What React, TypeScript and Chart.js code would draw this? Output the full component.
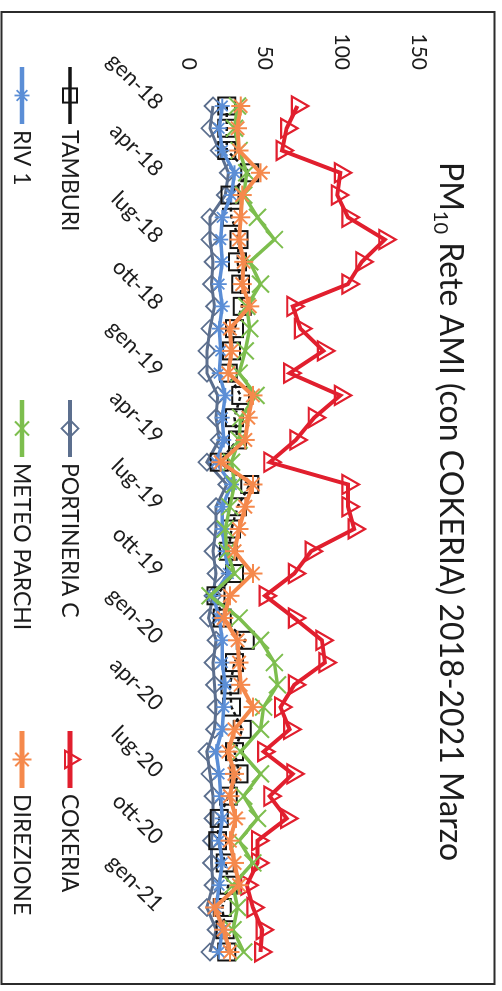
import React, { useEffect, useRef } from 'react';
import { Chart, registerables } from 'chart.js';
import { drawPoint } from 'chart.js/helpers';

Chart.register(...registerables);

const months = [
  'gen-18', 'feb-18', 'mar-18', 'apr-18', 'mag-18', 'giu-18', 'lug-18', 'ago-18', 'set-18', 'ott-18', 'nov-18', 'dic-18',
  'gen-19', 'feb-19', 'mar-19', 'apr-19', 'mag-19', 'giu-19', 'lug-19', 'ago-19', 'set-19', 'ott-19', 'nov-19', 'dic-19',
  'gen-20', 'feb-20', 'mar-20', 'apr-20', 'mag-20', 'giu-20', 'lug-20', 'ago-20', 'set-20', 'ott-20', 'nov-20', 'dic-20',
  'gen-21', 'feb-21', 'mar-21',
];
const shownTicks = ['gen-18', 'apr-18', 'lug-18', 'ott-18', 'gen-19', 'apr-19', 'lug-19', 'ott-19', 'gen-20', 'apr-20', 'lug-20', 'ott-20', 'gen-21'];

const cokeria = [71, 64, 61, 99, 97, 104, 128, 113, 104, 68, 73, 88, 66, 99, 82, 70, 53, 104, 104, 108, 80, 69, 50, 69, 87, 89, 69, 60, 66, 49, 68, 53, 64, 45, 45, 38, 42, 48, 47];
const meteoParchi = [32, 30, 33, 38, 36, 45, 56, 40, 47, 38, 40, 37, 33, 44, 34, 33, 28, 30, 27, 24, 25, 30, 14, 33, 47, 56, 58, 49, 47, 34, 47, 36, 45, 33, 42, 29, 32, 29, 36];
const direzione = [34, 32, 33, 47, 35, 34, 33, 36, 35, 40, 27, 28, 26, 42, 39, 37, 21, 42, 37, 33, 30, 42, 27, 23, 32, 33, 34, 42, 30, 26, 30, 27, 31, 27, 30, 33, 17, 23, 27];
const portineria = [16, 14, 20, 26, 24, 14, 14, 16, 15, 17, 14, 12, 12, 19, 18, 20, 12, 25, 18, 18, 16, 18, 16, 13, 18, 16, 17, 18, 17, 12, 14, 16, 16, 15, 15, 16, 12, 18, 14];
const riv1 = [22, 20, 22, 30, 28, 22, 21, 22, 20, 22, 20, 21, 20, 24, 22, 23, 18, 28, 22, 22, 24, 26, 16, 20, 22, 22, 24, 23, 22, 18, 20, 21, 22, 20, 22, 20, 18, 22, 20];
const tamburi = [25, 25, 25, 40, 27, 28, 33, 32, 34, 35, 30, 28, 26, 34, 30, 32, 20, 40, 32, 28, 26, 30, 18, 22, 37, 30, 27, 28, 35, 30, 33, 26, 20, 19, 24, 26, 22, 24, 25];

const titleMain = 'PM';
const titleSub = '10';
const titleRest = ' Rete AMI (con COKERIA) 2018-2021 Marzo';

const FONT = 'Lato';

type Series = {
  label: string; data: number[]; color: string; style: string; radius: number;
  lineWidth: number; markerWidth: number; dash?: number[]; order: number; col: number; row: number;
};

const series: Series[] = [
  { label: 'TAMBURI', data: tamburi, color: '#141414', style: 'rect', radius: 12, lineWidth: 2.5, markerWidth: 2, dash: [4, 3], order: 3, col: 0, row: 0 },
  { label: 'PORTINERIA C', data: portineria, color: '#5C6F8E', style: 'rectRot', radius: 8.5, lineWidth: 3, markerWidth: 1.8, order: 4, col: 1, row: 0 },
  { label: 'COKERIA', data: cokeria, color: '#E11F2E', style: 'triangle', radius: 11, lineWidth: 4, markerWidth: 2.2, order: 5, col: 2, row: 0 },
  { label: 'RIV 1', data: riv1, color: '#5B8ED6', style: 'star', radius: 7.5, lineWidth: 3.5, markerWidth: 1.8, order: 2, col: 0, row: 1 },
  { label: 'METEO PARCHI', data: meteoParchi, color: '#7DBE4E', style: 'crossRot', radius: 12, lineWidth: 3.5, markerWidth: 2, order: 1, col: 1, row: 1 },
  { label: 'DIREZIONE', data: direzione, color: '#F5894C', style: 'star', radius: 9.5, lineWidth: 4, markerWidth: 2, order: 0, col: 2, row: 1 },
];

const legendCols = [67, 400, 731];
const legendRows = [432, 480];

const decorPlugin = {
  id: 'decor',
  afterDraw(chart: any) {
    const ctx = chart.ctx as CanvasRenderingContext2D;
    ctx.save();
    ctx.strokeStyle = '#2b2b2b';
    ctx.lineWidth = 2;
    ctx.strokeRect(12, 7.5, 972, 493);

    const big = `32px ${FONT}`;
    const small = `20px ${FONT}`;
    ctx.fillStyle = '#1c1c1c';
    ctx.textAlign = 'left';
    ctx.textBaseline = 'alphabetic';
    ctx.font = big;
    const w1 = ctx.measureText(titleMain).width;
    const w3 = ctx.measureText(titleRest).width;
    ctx.font = small;
    const w2 = ctx.measureText(titleSub).width;
    let x = 511.5 - (w1 + w2 + w3) / 2;
    const base = 62;
    ctx.font = big;
    ctx.fillText(titleMain, x, base);
    x += w1;
    ctx.font = small;
    ctx.fillText(titleSub, x, base + 6);
    x += w2;
    ctx.font = big;
    ctx.fillText(titleRest, x, base);

    ctx.font = `23px ${FONT}`;
    ctx.textBaseline = 'middle';
    series.forEach((s) => {
      const x0 = legendCols[s.col];
      const y = legendRows[s.row];
      ctx.setLineDash([]);
      ctx.strokeStyle = s.color;
      ctx.lineWidth = s.lineWidth + 1;
      ctx.beginPath();
      ctx.moveTo(x0, y);
      ctx.lineTo(x0 + 57, y);
      ctx.stroke();
      ctx.fillStyle = 'rgba(255,255,255,0)';
      ctx.strokeStyle = s.color;
      ctx.lineWidth = s.markerWidth;
      drawPoint(ctx, { pointStyle: s.style, radius: Math.min(s.radius, 10), borderWidth: s.markerWidth, rotation: 0 } as any, x0 + 28.5, y);
      ctx.fillStyle = '#1c1c1c';
      ctx.fillText(s.label, x0 + 63, y + 1);
    });
    ctx.restore();
  },
};

export default function App() {
  const canvasRef = useRef<HTMLCanvasElement | null>(null);

  useEffect(() => {
    if (!canvasRef.current) return;
    Chart.defaults.font.family = FONT;
    const chart = new Chart(canvasRef.current, {
      type: 'line',
      data: {
        labels: months,
        datasets: series.map((s) => ({
          label: s.label,
          data: s.data,
          borderColor: s.color,
          backgroundColor: 'rgba(255,255,255,0)',
          borderWidth: s.lineWidth,
          borderDash: s.dash || [],
          pointStyle: s.style as any,
          pointRadius: s.radius,
          pointBorderWidth: s.markerWidth,
          pointBorderColor: s.color,
          pointBackgroundColor: 'rgba(255,255,255,0)',
          tension: 0,
          fill: false,
          order: s.order,
        })),
      },
      options: {
        responsive: false,
        animation: false,
        devicePixelRatio: 1,
        layout: { padding: { left: 0, right: 39, top: 83.5, bottom: 0 } },
        plugins: {
          legend: { display: false },
          title: { display: false },
          tooltip: { enabled: false },
        },
        scales: {
          x: {
            grid: { display: false, drawTicks: false },
            border: { display: false },
            ticks: {
              autoSkip: false,
              minRotation: 45,
              maxRotation: 45,
              padding: 20,
              color: '#1c1c1c',
              font: { family: FONT, size: 22 },
              callback: (_v: any, i: number) => (shownTicks.includes(months[i]) ? months[i] : ''),
            },
            afterFit: (scale: any) => { scale.height = 188.5; },
          },
          y: {
            min: 0,
            max: 150,
            grid: { display: false, drawTicks: false },
            border: { display: false },
            ticks: {
              stepSize: 50,
              padding: 36,
              color: '#1c1c1c',
              font: { family: FONT, size: 21 },
            },
            afterFit: (scale: any) => { scale.width = 106; },
          },
        },
      },
      plugins: [decorPlugin],
    });
    return () => chart.destroy();
  }, []);

  return (
    <div style={{ position: 'absolute', left: 0, top: 0, width: 502, height: 991, overflow: 'hidden', background: '#fff' }}>
      <div style={{ position: 'absolute', left: 0, top: 0, width: 991, height: 502, transformOrigin: '0 0', transform: 'translate(502px, 0) rotate(90deg)' }}>
        <canvas ref={canvasRef} width={991} height={502} style={{ display: 'block', width: 991, height: 502 }} />
      </div>
    </div>
  );
}
